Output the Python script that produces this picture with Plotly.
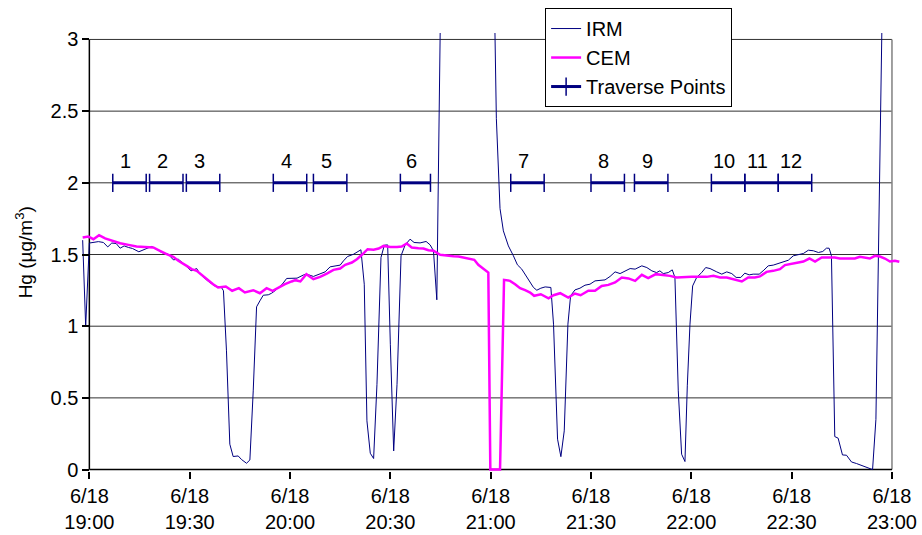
import pandas as pd
import plotly.graph_objects as go

# ---------------- data (minutes after 6/18 19:00, values in ug/m3) ----------------
irm_min = [-2.0, -1.1, 0.0, 1.3, 2.7, 4.2, 5.5, 6.7, 8.0, 9.2, 10.4, 11.7, 12.9, 14.8, 16.6,
           18.6, 20.1, 21.6, 23.6, 25.1, 26.6, 28.6, 30.4, 32.1, 33.1, 35.6, 37.5, 39.5, 40.1,
           41.0, 42.0, 43.0, 44.5, 45.5, 47.0, 48.0, 49.0, 50.0, 51.0, 52.0, 53.5, 54.5, 55.5,
           56.5, 57.7, 59.0, 60.5, 62.1, 64.1, 65.0, 67.0, 69.0, 70.5, 72.0, 73.5, 75.0, 76.0,
           77.2, 79.0, 80.0, 81.2, 82.2, 83.0, 84.0, 85.0, 86.0, 87.2, 88.2, 89.2, 90.0, 91.0,
           92.0, 93.2, 94.4, 95.9, 97.1, 98.9, 100.7, 101.9, 102.9, 103.9, 105.2, 120.9, 121.7,
           122.3, 122.8, 123.8, 125.3, 126.8, 128.0, 129.3, 130.6, 131.8, 132.8, 133.8, 135.0,
           136.3, 138.0, 138.8, 140.0, 141.0, 142.0, 143.1, 143.9, 145.2, 146.7, 148.2, 149.7,
           151.2, 152.7, 154.2, 155.7, 157.2, 158.7, 160.2, 161.7, 163.2, 164.2, 165.2, 166.7,
           168.2, 169.6, 170.6, 171.6, 173.1, 174.3, 175.1, 176.1, 177.1, 178.1, 178.8, 179.6,
           180.4, 181.6, 183.1, 184.3, 185.6, 187.6, 189.1, 190.6, 192.1, 193.4, 194.8, 196.0,
           197.3, 198.5, 200.3, 201.7, 203.0, 204.5, 206.0, 207.5, 209.0, 210.5, 212.0, 213.5,
           215.0, 216.5, 218.0, 219.3, 220.4, 221.2, 221.9, 222.9, 223.9, 225.2, 226.4, 227.9,
           229.4, 231.4, 232.9, 234.2, 235.2, 236.2, 237.2]
irm_val = [1.60, 1.00, 1.58, 1.585, 1.59, 1.584, 1.553, 1.58, 1.577, 1.544, 1.56, 1.549, 1.542,
           1.519, 1.537, 1.556, 1.537, 1.514, 1.502, 1.463, 1.467, 1.428, 1.386, 1.402, 1.363,
           1.312, 1.281, 1.27, 1.247, 0.828, 0.177, 0.091, 0.095, 0.07, 0.044, 0.067, 0.549,
           1.135, 1.177, 1.216, 1.219, 1.23, 1.247, 1.265, 1.293, 1.333, 1.335, 1.335, 1.358,
           1.363, 1.347, 1.367, 1.379, 1.414, 1.421, 1.426, 1.456, 1.486, 1.502, 1.514, 1.533,
           1.293, 0.34, 0.114, 0.077, 0.595, 1.479, 1.565, 1.567, 0.874, 0.13, 0.595, 1.491,
           1.565, 1.607, 1.584, 1.581, 1.591, 1.567, 1.526, 1.184, 3.6, 3.6, 2.45, 2.04, 1.82,
           1.665, 1.56, 1.491, 1.428, 1.398, 1.351, 1.305, 1.27, 1.251, 1.265, 1.274, 1.27,
           1.014, 0.212, 0.09, 0.27, 1.014, 1.212, 1.253, 1.265, 1.286, 1.293, 1.316, 1.321,
           1.323, 1.347, 1.379, 1.367, 1.386, 1.402, 1.398, 1.409, 1.421, 1.409, 1.386, 1.374,
           1.386, 1.367, 1.374, 1.393, 1.34, 0.549, 0.107, 0.056, 0.584, 1.014, 1.281, 1.34,
           1.374, 1.409, 1.402, 1.379, 1.363, 1.379, 1.367, 1.34, 1.34, 1.37, 1.358, 1.363,
           1.363, 1.391, 1.421, 1.426, 1.437, 1.451, 1.46, 1.491, 1.498, 1.507, 1.53, 1.526,
           1.514, 1.521, 1.544, 1.544, 1.491, 0.23, 0.219, 0.102, 0.1, 0.053, 0.042, 0.026,
           0.014, 0.0, 0.35, 1.8, 3.4]

cem_min = [-2.0, -0.3, 1.2, 2.9, 4.7, 6.7, 9.2, 11.7, 14.1, 16.6, 19.1, 21.1, 23.1, 25.1, 26.6,
           29.1, 30.6, 32.1, 33.6, 35.1, 37.0, 38.5, 40.8, 42.7, 44.7, 46.5, 49.0, 51.0, 53.0,
           54.8, 56.5, 58.5, 60.5, 61.6, 63.1, 64.9, 67.0, 69.0, 71.0, 73.0, 75.0, 76.5, 78.5,
           80.0, 81.5, 83.2, 85.0, 86.5, 88.0, 90.0, 92.0, 93.4, 94.9, 96.4, 98.4, 99.9, 101.4,
           102.9, 104.9, 106.9, 108.9, 110.4, 111.9, 113.4, 115.1, 116.3, 117.8, 119.3, 119.9,
           122.8, 124.0, 125.8, 127.3, 128.8, 130.3, 131.8, 133.0, 135.0, 137.3, 138.8, 140.8,
           143.2, 145.2, 146.9, 149.2, 151.2, 153.2, 155.2, 157.2, 159.2, 161.2, 163.2, 165.2,
           167.1, 169.4, 171.6, 173.6, 175.6, 177.6, 180.1, 182.6, 184.6, 186.6, 188.6, 190.6,
           192.6, 195.1, 197.0, 199.0, 200.5, 202.5, 204.5, 206.5, 208.0, 210.0, 212.0, 213.5,
           215.3, 217.0, 219.0, 220.9, 222.9, 224.4, 226.9, 228.9, 230.4, 232.4, 233.4, 234.9,
           236.4, 237.9, 239.4, 240.9, 242.2]
cem_val = [1.619, 1.626, 1.607, 1.635, 1.612, 1.595, 1.579, 1.567, 1.556, 1.553, 1.549, 1.526,
           1.502, 1.484, 1.456, 1.421, 1.398, 1.386, 1.356, 1.328, 1.293, 1.27, 1.277, 1.247,
           1.265, 1.235, 1.251, 1.23, 1.265, 1.247, 1.27, 1.293, 1.312, 1.321, 1.312, 1.363,
           1.328, 1.344, 1.367, 1.393, 1.402, 1.428, 1.444, 1.467, 1.498, 1.537, 1.533, 1.542,
           1.56, 1.553, 1.553, 1.556, 1.577, 1.549, 1.544, 1.542, 1.53, 1.526, 1.498, 1.491,
           1.488, 1.486, 1.479, 1.467, 1.463, 1.428, 1.402, 1.374, 0.0, 0.0, 1.323, 1.316,
           1.293, 1.265, 1.251, 1.235, 1.212, 1.223, 1.195, 1.216, 1.23, 1.2, 1.228, 1.216,
           1.247, 1.247, 1.281, 1.288, 1.305, 1.34, 1.333, 1.316, 1.358, 1.335, 1.363, 1.358,
           1.351, 1.34, 1.344, 1.344, 1.344, 1.344, 1.351, 1.34, 1.34, 1.328, 1.312, 1.34,
           1.34, 1.347, 1.379, 1.386, 1.398, 1.426, 1.433, 1.444, 1.451, 1.472, 1.451, 1.479,
           1.479, 1.479, 1.472, 1.472, 1.472, 1.484, 1.479, 1.472, 1.491, 1.486, 1.472, 1.451,
           1.456, 1.449]

trav_labels = ["1", "2", "3", "4", "5", "6", "7", "8", "9", "10", "11", "12"]
trav_start = [7, 18, 29, 55, 67, 93, 126, 150, 163, 186, 196, 206]
trav_end = [17, 28, 39, 65, 77, 102, 136, 160, 173, 196, 206, 216]
trav_level = 2.0

tick_min = [0, 30, 60, 90, 120, 150, 180, 210, 240]
tick_text = ["6/18<br>19:00", "6/18<br>19:30", "6/18<br>20:00", "6/18<br>20:30",
             "6/18<br>21:00", "6/18<br>21:30", "6/18<br>22:00", "6/18<br>22:30",
             "6/18<br>23:00"]
y_ticks = [0, 0.5, 1, 1.5, 2, 2.5, 3]
y_tick_text = ["0", "0.5", "1", "1.5", "2", "2.5", "3"]

# ---------------- helpers ----------------
BASE = pd.Timestamp("2003-06-18 19:00")


def t(m):
    return BASE + pd.Timedelta(minutes=float(m))


XMIN, XMAX = -2.5, 243.0
YMIN, YMAX = -0.01, 3.045
FONT = "Liberation Sans, Arial, sans-serif"
FS = 20
NAVY = "#000080"

fig = go.Figure()

fig.add_trace(go.Scatter(x=[t(m) for m in irm_min], y=irm_val, mode="lines", name="IRM",
                         line=dict(color=NAVY, width=1)))
fig.add_trace(go.Scatter(x=[t(m) for m in cem_min], y=cem_val, mode="lines", name="CEM",
                         line=dict(color="#FF00FF", width=2.5)))

tx, ty = [], []
for s, e in zip(trav_start, trav_end):
    tx += [t(s), t(e), None]
    ty += [trav_level, trav_level, None]
fig.add_trace(go.Scatter(x=tx, y=ty, mode="lines+markers", name="Traverse Points",
                         line=dict(color=NAVY, width=3),
                         marker=dict(symbol="line-ns", size=13,
                                     line=dict(color=NAVY, width=1.5))))

for lab, s, e in zip(trav_labels, trav_start, trav_end):
    fig.add_annotation(x=t((s + e) / 2), y=trav_level, text=lab, showarrow=False,
                       yshift=22, xshift=-4, font=dict(size=FS, color="black", family=FONT))

shapes = []
for yv in y_ticks[1:]:
    shapes.append(dict(type="line", xref="x", yref="y", x0=t(tick_min[0]), x1=t(tick_min[-1]),
                       y0=yv, y1=yv, line=dict(color="#303030", width=1), layer="below"))
shapes.append(dict(type="line", xref="x", yref="y", x0=t(tick_min[-1]), x1=t(tick_min[-1]),
                   y0=0, y1=y_ticks[-1], line=dict(color="#808080", width=1.5), layer="below"))
shapes.append(dict(type="line", xref="x", yref="y", x0=t(tick_min[0]), x1=t(tick_min[0]),
                   y0=0, y1=y_ticks[-1], line=dict(color="black", width=1.5), layer="below"))
shapes.append(dict(type="line", xref="x", yref="y", x0=t(tick_min[0]), x1=t(tick_min[-1]),
                   y0=0, y1=0, line=dict(color="black", width=1.5), layer="below"))

fig.add_annotation(xref="paper", yref="paper", x=-0.069, y=0.5, text="Hg (µg/m<sup>3</sup>)",
                   textangle=-90, showarrow=False, xanchor="center", yanchor="middle",
                   font=dict(size=19, color="black", family=FONT))

fig.update_layout(
    width=922, height=535,
    margin=dict(l=81, r=20, t=33, b=64, autoexpand=False),
    paper_bgcolor="white", plot_bgcolor="white",
    font=dict(family=FONT, size=FS, color="black"),
    shapes=shapes,
    showlegend=True,
    legend=dict(x=0.5653, y=1.057, xanchor="left", yanchor="top", bgcolor="white",
                bordercolor="black", borderwidth=1, font=dict(size=FS, family=FONT),
                itemwidth=30),
    xaxis=dict(type="date", range=[t(XMIN), t(XMAX)], tickvals=[t(m) for m in tick_min],
               ticktext=tick_text, ticks="outside", ticklen=7, tickcolor="black",
               tickwidth=1.5, showgrid=False, showline=False, zeroline=False,
               automargin=False, tickfont=dict(size=FS, family=FONT)),
    yaxis=dict(range=[YMIN, YMAX], tickvals=y_ticks, ticktext=y_tick_text, ticks="outside",
               ticklen=7, tickcolor="black", tickwidth=1.5, showgrid=False, showline=False,
               zeroline=False, anchor="free", position=(0 - XMIN) / (XMAX - XMIN),
               automargin=False, tickfont=dict(size=FS, family=FONT)),
)

fig.write_html("out.html")
